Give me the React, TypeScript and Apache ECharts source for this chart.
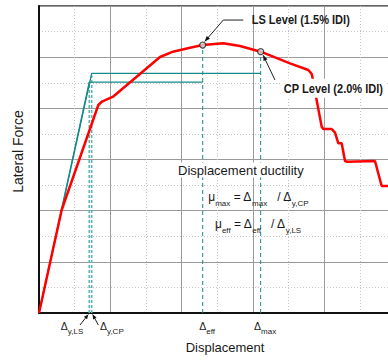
import React, { useEffect, useRef } from "react";
import * as echarts from "echarts";

// ---- data (x and y in grid units) ----
const redX = [0, 0.318, 0.832, 0.884, 1.038, 1.697, 1.879, 2.118, 2.296, 2.585, 2.819, 3.109, 3.52, 3.777, 3.825, 3.843, 3.885, 3.965, 3.987, 4.105, 4.152, 4.198, 4.245, 4.292, 4.324, 4.712, 4.806, 4.95];
const redY = [0, 2.013, 4.065, 4.133, 4.227, 5.003, 5.107, 5.185, 5.237, 5.271, 5.218, 5.107, 4.88, 4.749, 4.671, 4.553, 4.227, 3.641, 3.596, 3.596, 3.524, 3.316, 3.316, 2.971, 2.957, 2.971, 2.482, 2.482];
const cpBiX = [0, 0.739, 3.109];
const cpBiY = [0, 4.684, 4.684];
const lsBiX = [0, 0.705, 2.296];
const lsBiY = [0, 4.514, 4.514];
const levelNames = ["LS Level (1.5% IDI)", "CP Level (2.0% IDI)"];
const levelX = [2.296, 3.109];
const levelY = [5.237, 5.107];
const yieldX = [0.705, 0.739];
const yieldTop = [4.514, 4.684];
const yieldSubs = ["y,LS", "y,CP"];
const levelSubs = ["eff", "max"];
const X_MIN = 0, X_MAX = 5, Y_MIN = 0, Y_MAX = 6;

const FONT = '"Liberation Sans", Arial, Helvetica, sans-serif';
const TEAL = "#168a8a";
const TXT = "#1a1a1a";

const pair = (xs: number[], ys: number[]) => xs.map((x, i) => [x, ys[i]]);

function arrowHead(tip: number[], from: number[], len = 5.5, half = 2.2) {
  const dx = tip[0] - from[0], dy = tip[1] - from[1];
  const d = Math.hypot(dx, dy) || 1;
  const ux = dx / d, uy = dy / d;
  const bx = tip[0] - ux * len, by = tip[1] - uy * len;
  return {
    type: "polygon", z: 100, silent: true,
    shape: { points: [tip, [bx - uy * half, by + ux * half], [bx + uy * half, by - ux * half]] },
    style: { fill: "#111" },
  };
}
function leader(points: number[][]) {
  return { type: "polyline", z: 100, silent: true, shape: { points }, style: { stroke: "#222", lineWidth: 1, fill: null } };
}

export default function App() {
  const ref = useRef<HTMLDivElement>(null);
  useEffect(() => {
    if (!ref.current) return;
    const chart = echarts.init(ref.current, undefined, { renderer: "svg" });
    const axisCommon = {
      type: "value",
      axisLine: { show: true, onZero: false, lineStyle: { color: "#111", width: 2 } },
      axisTick: { show: false },
      axisLabel: { show: false },
      splitLine: { show: true, lineStyle: { color: "#9a9a9a", width: 1 } },
      minorTick: { show: false, splitNumber: 2 },
      minorSplitLine: { show: true, lineStyle: { color: "#c4c4c4", width: 1, type: [1, 2] } },
    };
    chart.setOption({
      animation: false,
      grid: { left: 39, right: 4.5, top: 6, bottom: 49, show: true, borderColor: "#333", borderWidth: 1.5 },
      xAxis: { ...axisCommon, min: X_MIN, max: X_MAX, interval: 1 },
      yAxis: { ...axisCommon, min: Y_MIN, max: Y_MAX, interval: 1 },
      series: [
        ...yieldX.map((x, i) => ({
          type: "line", symbol: "none", z: 2, data: [[x, 0], [x, yieldTop[i]]],
          lineStyle: { color: "#5fb3b3", width: 1.6, type: [3, 2] },
        })),
        ...levelX.map((x, i) => ({
          type: "line", symbol: "none", z: 2, data: [[x, 0], [x, levelY[i]]],
          lineStyle: { color: TEAL, width: 1, type: [4, 3] },
        })),
        { type: "line", symbol: "none", z: 3, data: pair(cpBiX, cpBiY), lineStyle: { color: TEAL, width: 1.3 } },
        { type: "line", symbol: "none", z: 3, data: pair(lsBiX, lsBiY), lineStyle: { color: TEAL, width: 1.3 } },
        { type: "line", symbol: "none", z: 4, data: pair(redX, redY), lineStyle: { color: "#ff0000", width: 2.5 } },
        {
          type: "scatter", symbol: "circle", symbolSize: 6, z: 6, data: pair(levelX, levelY),
          itemStyle: { color: "#d9d9d9", borderColor: "#222", borderWidth: 1.2 },
        },
      ],
    });

    const P = (x: number, y: number) => chart.convertToPixel({ gridIndex: 0 }, [x, y]) as number[];
    const g: any[] = [];

    // LS level callout
    const ls = P(levelX[0], levelY[0]);
    const lsTip = [ls[0] + 2, ls[1] - 3.5], lsElbow = [ls[0] + 20.6, ls[1] - 25], lsEnd = [ls[0] + 40.6, ls[1] - 25];
    g.push(leader([lsEnd, lsElbow, lsTip]), arrowHead(lsTip, lsElbow));
    g.push({
      type: "text", z: 100, x: ls[0] + 49, y: ls[1] - 25, scaleX: 0.85,
      style: { text: levelNames[0], font: `bold 13px ${FONT}`, fill: TXT, align: "left", verticalAlign: "middle" },
    });
    // CP level callout
    const cp = P(levelX[1], levelY[1]);
    const cpTip = [cp[0] + 2.5, cp[1] + 3.5], cpTail = [cp[0] + 14.3, cp[1] + 28.3];
    g.push(leader([cpTail, cpTip]), arrowHead(cpTip, cpTail));
    g.push({
      type: "text", z: 110, x: cp[0] + 21.5, y: cp[1] + 36.6, scaleX: 0.85,
      style: {
        text: levelNames[1], font: `bold 13px ${FONT}`, fill: TXT, align: "left", verticalAlign: "middle",
        backgroundColor: "#fff", padding: [3, 2, 3, 2],
      },
    });

    // Delta labels under the axis
    const deltaRich = {
      d: { fontSize: 10.5, lineHeight: 10, fontFamily: FONT, fill: TXT, verticalAlign: "top" },
      s: { fontSize: 8, lineHeight: 8, fontFamily: FONT, fill: TXT, verticalAlign: "top", padding: [7, 0, 0, 0] },
    };
    const yl = P(yieldX[0], 0), yc = P(yieldX[1], 0);
    g.push({
      type: "text", z: 100, x: yl[0] - 6, y: yl[1] + 7,
      style: { text: `{d|Δ}{s|${yieldSubs[0]}}`, rich: deltaRich, align: "right", verticalAlign: "top" },
    });
    g.push({
      type: "text", z: 100, x: yc[0] + 8.3, y: yc[1] + 7,
      style: { text: `{d|Δ}{s|${yieldSubs[1]}}`, rich: deltaRich, align: "left", verticalAlign: "top" },
    });
    const a1Tail = [yl[0] - 9.3, yl[1] + 12], a1Tip = [yl[0] - 1, yl[1] + 1.5];
    const a2Tail = [yc[0] + 6.6, yc[1] + 12], a2Tip = [yc[0] + 1, yc[1] + 1.5];
    g.push(leader([a1Tail, a1Tip]), arrowHead(a1Tip, a1Tail, 4.5, 2));
    g.push(leader([a2Tail, a2Tip]), arrowHead(a2Tip, a2Tail, 4.5, 2));
    levelX.forEach((x, i) => {
      const b = P(x, 0);
      g.push({
        type: "text", z: 100, x: b[0] + 4.5, y: b[1] + 7,
        style: { text: `{d|Δ}{s|${levelSubs[i]}}`, rich: deltaRich, align: "center", verticalAlign: "top" },
      });
    });

    // Ductility text block
    const plotL = P(X_MIN, 0)[0];
    g.push({
      type: "text", z: 100, x: 177, y: 170,
      style: {
        text: "Displacement ductility", font: `13px ${FONT}`, fill: TXT, align: "left", verticalAlign: "middle",
        backgroundColor: "#fff", padding: [1, 1, 1, 1],
      },
    });
    const fRich = {
      m: { fontSize: 12, lineHeight: 12, fontFamily: FONT, fill: TXT, verticalAlign: "top" },
      s: { fontSize: 8, lineHeight: 8, fontFamily: FONT, fill: TXT, verticalAlign: "top", padding: [8, 0, 0, 0] },
    };
    g.push({
      type: "text", z: 100, x: 208.3, y: 191.3,
      style: { text: "{m|μ}{s|max}{m| = Δ}{s|max}{m|   / Δ}{s|y,CP}", rich: fRich, align: "left", verticalAlign: "top" },
    });
    g.push({
      type: "text", z: 100, x: 215, y: 218.2,
      style: { text: "{m|μ}{s|eff}{m| = Δ}{s|eff}{m|   / Δ}{s|y,LS}", rich: fRich, align: "left", verticalAlign: "top" },
    });

    // axis names
    g.push({
      type: "text", z: 100, x: 225, y: 347,
      style: { text: "Displacement", font: `13px ${FONT}`, fill: TXT, align: "center", verticalAlign: "middle" },
    });
    g.push({
      type: "text", z: 100, x: plotL - 21, y: 151.5, rotation: Math.PI / 2,
      style: { text: "Lateral Force", font: `14px ${FONT}`, fill: TXT, align: "center", verticalAlign: "middle" },
    });

    chart.setOption({ graphic: g });
    return () => chart.dispose();
  }, []);
  return (
    <div style={{ position: "fixed", left: 0, top: 0, width: 388, height: 362, overflow: "hidden", background: "#fff" }}>
      <div ref={ref} style={{ width: 400, height: 362 }} />
    </div>
  );
}
